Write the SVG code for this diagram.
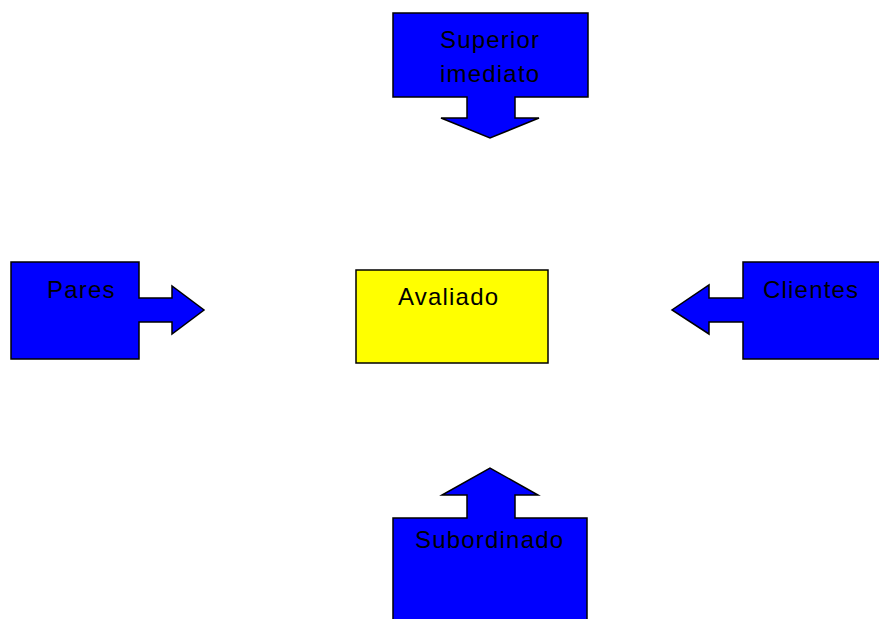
<svg xmlns="http://www.w3.org/2000/svg" width="879" height="619" viewBox="0 0 879 619">
<style>
.blk{fill:#0000ff;stroke:#000;stroke-width:1.5;stroke-linejoin:miter}
.ctr{fill:#ffff00;stroke:#000;stroke-width:1.5}
text{font-family:"Liberation Sans",Arial,sans-serif;font-size:24px;letter-spacing:1.2px;fill:#000}
</style>
<rect width="879" height="619" fill="#fff"/>
<g id="connectors"></g>
<g id="superior">
<polygon class="blk" points="393,13 588,13 588,97 515,97 515,118 539,118 490,138 441,118 467,118 467,97 393,97"/>
<text x="440" y="48">Superior</text>
<text x="440" y="82">imediato</text>
</g>
<g id="pares">
<polygon class="blk" points="11,262 139,262 139,298 172,298 172,286 204,310 172,334 172,322 139,322 139,359 11,359"/>
<text x="47" y="298">Pares</text>
</g>
<g id="clientes">
<polygon class="blk" points="743,262 890,262 890,359 743,359 743,322 709,322 709,334 672,310 709,285 709,298 743,298"/>
<text x="763" y="298">Clientes</text>
</g>
<g id="subordinado">
<polygon class="blk" points="393,518 467,518 467,495 442,495 490,468 538,495 515,495 515,518 587,518 587,630 393,630"/>
<text x="415" y="548">Subordinado</text>
</g>
<g id="avaliado">
<rect class="ctr" x="356" y="270" width="192" height="93"/>
<text x="398" y="305">Avaliado</text>
</g>
</svg>
